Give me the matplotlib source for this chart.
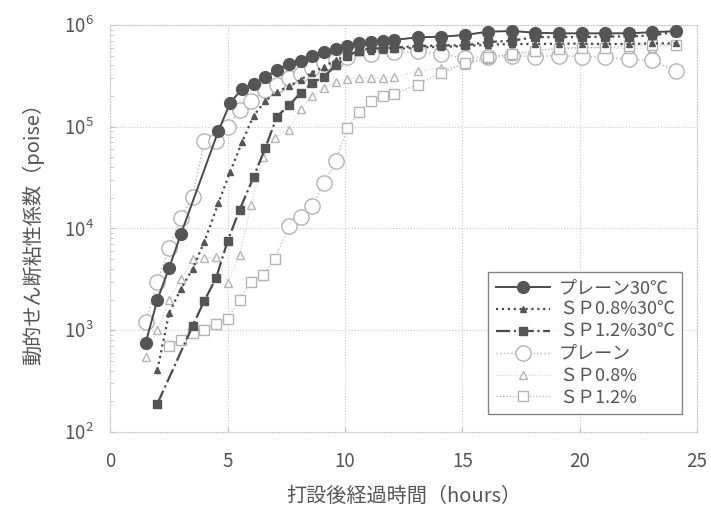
import numpy as np
import matplotlib.pyplot as plt
from matplotlib.ticker import LogLocator, FixedLocator, NullFormatter

plt.rcParams['font.family'] = ['Noto Sans CJK JP', 'DejaVu Sans']

# hours / viscosity (poise)
plain30_x = [1.5, 2.0, 2.5, 3.0, 4.6, 5.1, 5.6, 6.1, 6.6, 7.1, 7.6, 8.1, 8.6, 9.1, 9.6,
             10.1, 10.6, 11.1, 11.6, 12.1, 13.1, 14.1, 15.1, 16.1, 17.1, 18.1, 19.1,
             20.1, 21.1, 22.1, 23.1, 24.1]
plain30_y = [750, 2000, 4100, 8800, 91000, 171000, 235000, 263000, 308000, 361000, 414000,
             443000, 496000, 543000, 581000, 622000, 658000, 681000, 697000, 713000, 757000,
             767000, 798000, 859000, 873000, 840000, 828000, 828000, 828000, 828000, 850000,
             870000]

sp08_30_x = [2.0, 2.5, 3.0, 3.5, 4.0, 4.6, 5.1, 5.6, 6.1, 6.6, 7.1, 7.6, 8.1, 8.6, 9.1, 9.6,
             10.1, 10.6, 11.1, 11.6, 12.1, 13.1, 14.1, 15.1, 16.1, 17.1, 18.1, 19.1, 20.1,
             21.1, 22.1, 23.1, 24.1]
sp08_30_y = [410, 1480, 2540, 4000, 7400, 17800, 36000, 70000, 128000, 180000, 220000, 250000,
             290000, 340000, 390000, 450000, 500000, 540000, 560000, 570000, 580000, 600000,
             610000, 620000, 640000, 650000, 650000, 655000, 655000, 650000, 650000, 660000,
             660000]

sp12_30_x = [2.0, 3.5, 4.0, 4.5, 5.0, 5.5, 6.1, 6.6, 7.1, 7.6, 8.1, 8.6, 9.1, 9.6, 10.1, 10.6,
             11.1, 11.6, 12.1, 13.1, 14.1, 15.1, 16.1, 17.1, 18.1, 19.1, 20.1, 21.1, 22.1,
             23.1, 24.1]
sp12_30_y = [190, 1100, 1950, 3250, 7600, 15200, 32000, 62000, 126000, 162000, 214000,
             270000, 310000, 400000, 500000, 560000, 590000, 590000, 600000, 620000, 630000,
             630000, 680000, 700000, 760000, 760000, 760000, 770000, 770000, 790000, 860000]

plain_x = [1.5, 2.0, 2.5, 3.0, 3.5, 4.0, 4.5, 5.0, 5.5, 6.0, 6.6, 7.1, 7.6, 8.1, 8.6, 9.1,
           9.6, 10.1, 11.1, 12.1, 13.1, 14.1, 15.1, 16.1, 17.1, 18.1, 19.1, 20.1, 21.1, 22.1,
           23.1, 24.1]
plain_y = [1200, 3000, 6500, 12600, 20500, 72000, 72000, 100000, 145000, 180000, 230000,
           260000, 300000, 330000, 380000, 420000, 450000, 480000, 520000, 540000, 550000,
           520000, 470000, 490000, 500000, 490000, 500000, 490000, 480000, 460000, 450000,
           350000]

sp08_x = [1.5, 2.0, 2.5, 3.0, 3.5, 4.0, 4.5, 5.0, 5.5, 6.0, 6.5, 7.0, 7.6, 8.1, 8.6, 9.1,
          9.6, 10.1, 10.6, 11.1, 11.6, 12.1, 13.1, 14.1, 15.1, 16.1, 17.1, 18.1, 19.1, 20.1,
          21.1, 22.1, 23.1, 24.1]
sp08_y = [550, 1000, 2000, 3200, 5000, 5100, 5200, 2900, 5500, 17000, 50000, 78000, 93000,
          150000, 200000, 240000, 275000, 295000, 300000, 300000, 300000, 310000, 350000,
          380000, 400000, 460000, 500000, 560000, 600000, 600000, 600000, 580000, 600000,
          640000]

sp12_x = [2.5, 3.0, 3.5, 4.0, 4.5, 5.0, 5.5, 6.0, 6.5, 7.0, 7.6, 8.1, 8.6, 9.1, 9.6, 10.1,
          10.6, 11.1, 11.6, 12.1, 13.1, 14.1, 15.1, 16.1, 17.1, 18.1, 19.1, 20.1, 21.1, 22.1,
          23.1, 24.1]
sp12_y = [700, 800, 950, 1000, 1150, 1300, 2000, 3000, 3500, 5000, 10500, 13000, 16500, 28000,
          46000, 97000, 140000, 180000, 200000, 210000, 260000, 340000, 420000, 480000, 520000,
          560000, 580000, 600000, 600000, 620000, 640000, 640000]
# in the scan these SP1.2% points come out as circles
sp12_circle_idx = [10, 11, 12, 13, 14]

dark = '#4a4a4a'
light = '#b4b4b4'
txt = '#555555'

fig = plt.figure(figsize=(7.11, 5.13), dpi=100)
ax = fig.add_axes([0.1554, 0.1579, 0.8249, 0.7934])

ax.plot(plain30_x, plain30_y, '-', color=dark, lw=1.4, marker='o', ms=8.5,
        mfc='#555555', mec='#555555', label='プレーン30℃', zorder=5)
ax.plot(sp08_30_x, sp08_30_y, ':', color=dark, lw=1.6, marker='^', ms=5,
        mfc='#555555', mec='#555555', label='ＳＰ0.8%30℃', zorder=4)
ax.plot(sp12_30_x, sp12_30_y, '-.', color=dark, lw=1.6, marker='s', ms=6,
        mfc='#555555', mec='#555555', label='ＳＰ1.2%30℃', zorder=4)
ax.plot(plain_x, plain_y, ':', color=light, lw=1.0, marker='o', ms=11,
        mfc='white', mec=light, label='プレーン', zorder=3)
ax.plot(sp08_x, sp08_y, ':', color='#d0d0d0', lw=0.8, marker='^', ms=6,
        mfc='white', mec=light, label='ＳＰ0.8%', zorder=3)
sq_idx = [i for i in range(len(sp12_x)) if i not in sp12_circle_idx]
ax.plot(sp12_x, sp12_y, ':', color=light, lw=0.9, marker='s', ms=7,
        mfc='white', mec=light, markevery=sq_idx, label='ＳＰ1.2%', zorder=3)
ax.plot([sp12_x[i] for i in sp12_circle_idx], [sp12_y[i] for i in sp12_circle_idx],
        'o', ms=11, mfc='white', mec=light, zorder=3)

ax.set_yscale('log')
ax.set_xlim(0, 25)
ax.set_ylim(1e2, 1e6)
ax.xaxis.set_major_locator(FixedLocator([0, 5, 10, 15, 20, 25]))
ax.yaxis.set_major_locator(LogLocator(base=10, numticks=10))
ax.yaxis.set_minor_locator(LogLocator(base=10, subs=np.arange(2, 10), numticks=10))
ax.yaxis.set_minor_formatter(NullFormatter())
ax.grid(True, which='major', ls=':', color='#c8c8c8', lw=0.8)
ax.tick_params(which='both', direction='in', colors='#bbbbbb', labelcolor=txt,
               labelsize=13.5)
ax.tick_params(axis='x', pad=14)
ax.tick_params(axis='y', pad=12)
ax.tick_params(which='minor', length=2)
for s in ax.spines.values():
    s.set_color('#c8c8c8')
    s.set_linestyle(':')

ax.set_xlabel('打設後経過時間（hours）', fontsize=14.5, color=txt, labelpad=10)
ax.set_ylabel('動的せん断粘性係数（poise）', fontsize=14.5, color=txt, labelpad=14)

leg = ax.legend(loc='lower right', bbox_to_anchor=(0.99, 0.022), fontsize=13,
                frameon=True, fancybox=False, edgecolor='#666666', handlelength=3.0,
                labelspacing=0.22, borderpad=0.4, handletextpad=0.5)
leg.get_frame().set_linewidth(1.0)
for t in leg.get_texts():
    t.set_color(txt)

fig.savefig('out.png', dpi=100)
